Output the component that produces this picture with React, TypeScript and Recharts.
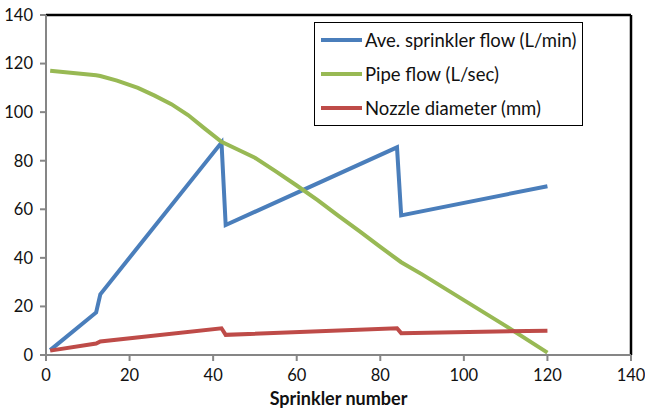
import { LineChart, Line, XAxis, YAxis, ReferenceLine } from 'recharts';

// Sprinkler numbers and values
const flowX = [1, 12, 13, 42, 43, 84, 85, 120];
const flowY = [2, 17.5, 25, 87.5, 53.5, 85.5, 57.5, 69.5];

const pipeX = [1, 12, 13, 17, 22, 26, 30, 34, 38, 42, 46, 50, 55, 60, 65, 70, 75, 80, 85, 90, 100, 110, 120];
const pipeY = [117, 115.2, 114.9, 113, 110, 106.8, 103.3, 98.8, 93.2, 87.8, 84.5, 81.2, 75.6, 69.8, 63.8, 57.3, 51, 44.5, 38.2, 33.2, 22.6, 12, 1];

const nozzleX = [1, 12, 13, 42, 43, 84, 85, 120];
const nozzleY = [1.8, 4.7, 5.6, 11, 8.3, 11, 9, 10];

const xTicks = [0, 20, 40, 60, 80, 100, 120, 140];
const yTicks = [0, 20, 40, 60, 80, 100, 120, 140];

const seriesNames = ['Ave. sprinkler flow (L/min)', 'Pipe flow (L/sec)', 'Nozzle diameter (mm)'];
const seriesColors = ['#4A7EBB', '#98B954', '#BE4B48'];

const toPoints = (xs: number[], ys: number[]) => xs.map((x, i) => ({ x, y: ys[i] }));

const flowData = toPoints(flowX, flowY);
const pipeData = toPoints(pipeX, pipeY);
const nozzleData = toPoints(nozzleX, nozzleY);

const font = 'Lato, "Open Sans", sans-serif';

function LegendBox() {
  return (
    <div
      style={{
        position: 'absolute',
        left: 314,
        top: 22,
        border: '1px solid #000',
        background: '#fff',
        width: 269,
        height: 104,
        boxSizing: 'border-box',
        padding: '0 0 0 6px',
        fontFamily: font,
        fontSize: 18.5,
        color: '#111',
      }}
    >
      {seriesNames.map((name, i) => (
        <div key={name} style={{ display: 'flex', alignItems: 'center', height: 34, whiteSpace: 'nowrap' }}>
          <span style={{ display: 'inline-block', width: 41, height: 4, background: seriesColors[i], marginRight: 3 }} />
          {name}
        </div>
      ))}
    </div>
  );
}

export default function App() {
  return (
    <div style={{ position: 'absolute', left: 0, top: 0, width: 645, height: 411, background: '#fff' }}>
      <LineChart width={645} height={411} margin={{ top: 15, right: 14, left: 0, bottom: 0 }}>
        <XAxis
          dataKey="x"
          type="number"
          domain={[0, 140]}
          ticks={xTicks}
          allowDuplicatedCategory={false}
          stroke="#868686"
          strokeWidth={2}
          tickSize={6}
          tickMargin={8}
          height={56}
          tick={{ fill: '#111', fontSize: 16.5, fontFamily: font }}
          label={{
            value: 'Sprinkler number',
            position: 'insideBottom',
            offset: 6,
            style: { fill: '#111', fontSize: 18, fontWeight: 'bold', fontFamily: font },
          }}
        />
        <YAxis
          type="number"
          domain={[0, 140]}
          ticks={yTicks}
          width={46}
          stroke="#868686"
          strokeWidth={2}
          tickSize={6}
          tickMargin={7}
          tick={{ fill: '#111', fontSize: 16.5, fontFamily: font }}
        />
        <ReferenceLine y={140} stroke="#000" strokeWidth={2.5} />
        <ReferenceLine x={140} stroke="#000" strokeWidth={2.5} />
        <Line data={flowData} dataKey="y" name={seriesNames[0]} type="linear" stroke={seriesColors[0]} strokeWidth={4} dot={false} isAnimationActive={false} />
        <Line data={pipeData} dataKey="y" name={seriesNames[1]} type="linear" stroke={seriesColors[1]} strokeWidth={4} dot={false} isAnimationActive={false} />
        <Line data={nozzleData} dataKey="y" name={seriesNames[2]} type="linear" stroke={seriesColors[2]} strokeWidth={4} dot={false} isAnimationActive={false} />
      </LineChart>
      <LegendBox />
    </div>
  );
}
